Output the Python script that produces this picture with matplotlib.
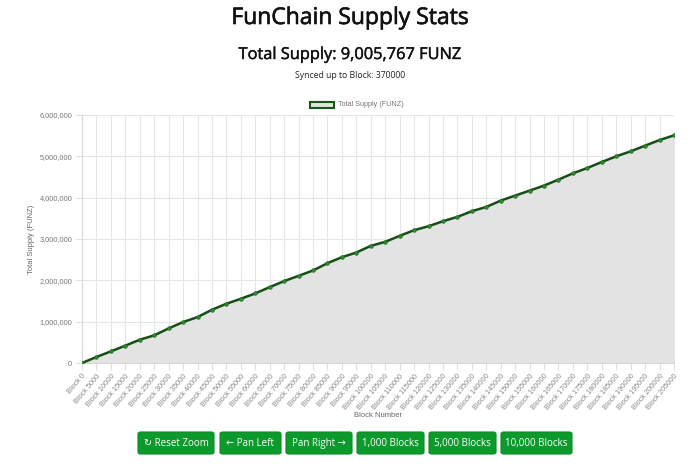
import matplotlib
matplotlib.use("Agg")
import matplotlib.pyplot as plt
import matplotlib.patheffects as pe
from matplotlib.patches import FancyBboxPatch, Rectangle
from matplotlib.ticker import FuncFormatter, MultipleLocator

blocks = list(range(0, 205001, 5000))
block_labels = [f"Block {b}" for b in blocks]
supply = [0, 145000, 282000, 419000, 564000, 668000, 837000, 990000, 1111000, 1288000,
          1433000, 1554000, 1683000, 1836000, 1981000, 2109000, 2238000, 2415000, 2560000, 2673000,
          2834000, 2931000, 3076000, 3213000, 3309000, 3430000, 3535000, 3672000, 3776000, 3929000,
          4050000, 4171000, 4292000, 4437000, 4589000, 4718000, 4863000, 5000000, 5121000, 5258000,
          5394000, 5507000]
title = "FunChain Supply Stats"
subtitle = "Total Supply: 9,005,767 FUNZ"
synced = "Synced up to Block: 370000"
series_name = "Total Supply (FUNZ)"
buttons = ["\u21bb Reset Zoom", "\u2190 Pan Left", "Pan Right \u2192", "1,000 Blocks", "5,000 Blocks", "10,000 Blocks"]

W, H = 700, 469
fig = plt.figure(figsize=(7, 4.69), dpi=100)
fig.patch.set_facecolor("white")

def fx(px):
    return px / W

def fy(py):
    return 1 - py / H

ax = fig.add_axes([fx(82), fy(363), fx(674) - fx(82), fy(115) - fy(363)])
x = list(range(len(blocks)))
ax.fill_between(x, supply, 0, color="#e3e3e3", zorder=1)
ax.plot(x, supply, color="#154f15", lw=1.8, zorder=3, marker="o", ms=2.6,
        mfc="#2f8a2f", mec="#236b23", mew=0.5)
ax.set_xlim(0, len(blocks) - 1)
ax.set_ylim(0, 6000000)
ax.yaxis.set_major_locator(MultipleLocator(1000000))
ax.yaxis.set_major_formatter(FuncFormatter(lambda v, p: f"{int(v):,}"))
ax.set_xticks(x)
ax.set_xticklabels(block_labels, rotation=50, ha="right", rotation_mode="anchor",
                   fontsize=5.3, color="#888888", family="Liberation Sans")
for lab in ax.get_yticklabels():
    lab.set_fontsize(5.3)
    lab.set_color("#777777")
    lab.set_family("Liberation Sans")
ax.grid(True, color="#e6e6e6", lw=0.8, zorder=0)
ax.set_axisbelow(True)
ax.tick_params(axis="both", length=5, color="#e0e0e0", width=0.8, pad=2)
for s in ["top", "right"]:
    ax.spines[s].set_visible(False)
for s in ["left", "bottom"]:
    ax.spines[s].set_color("#d8d8d8")
    ax.spines[s].set_linewidth(0.8)
ax.set_ylabel("Total Supply (FUNZ)", fontsize=5.5, color="#666666", family="Liberation Sans", labelpad=3)
ax.set_xlabel("Block Number", fontsize=5.5, color="#666666", family="Liberation Sans", labelpad=0)

# Titles
fig.text(0.5, fy(18), title, ha="center", va="center", fontsize=16.5, family="Open Sans",
         color="#111111", path_effects=[pe.withStroke(linewidth=0.45, foreground="#111111")])
fig.text(0.5, fy(55), subtitle, ha="center", va="center", fontsize=11.8, family="Open Sans",
         color="#111111", path_effects=[pe.withStroke(linewidth=0.3, foreground="#111111")])
fig.text(0.5, fy(75), synced, ha="center", va="center", fontsize=6.2, family="Open Sans", color="#222222")

# Legend
fig.patches.append(Rectangle((fx(310), fy(108)), fx(334) - fx(310), fy(102) - fy(108),
                             transform=fig.transFigure, facecolor="#e3e3e3", edgecolor="#145a14", lw=1.5))
fig.text(fx(338), fy(105), series_name, ha="left", va="center", fontsize=5.2, color="#777777", family="Liberation Sans")

# Buttons
btn_x = [(138, 214), (220, 281), (286, 352), (357, 424), (429, 496), (501, 572)]
y0, y1 = 432, 454
for (a, b), label in zip(btn_x, buttons):
    fig.patches.append(FancyBboxPatch((fx(a), fy(y1)), fx(b) - fx(a), fy(y0) - fy(y1),
                                      boxstyle="round,pad=0,rounding_size=0.004",
                                      transform=fig.transFigure, facecolor="#0c9a2c", edgecolor="#0a8a26", lw=0.8))
    fig.text(fx((a + b) / 2), fy((y0 + y1) / 2), label, ha="center", va="center", fontsize=7,
             color="white", family=["Open Sans", "DejaVu Sans"])

fig.savefig("out.png", dpi=100, facecolor="white")
